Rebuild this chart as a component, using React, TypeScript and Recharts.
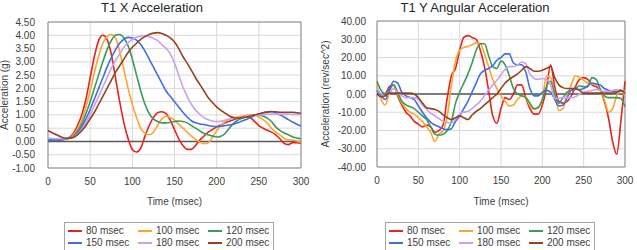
import { LineChart, Line, XAxis, YAxis, CartesianGrid, ReferenceLine, ReferenceArea } from "recharts";

// sample times, msec
const TIME_MS = [
  0, 5, 10, 15, 20, 25, 30, 35, 40, 45, 50, 55, 60, 65, 70, 75, 80, 85, 90, 95,
  100, 105, 110, 115, 120, 125, 130, 135, 140, 145, 150, 155, 160, 165, 170, 175, 180, 185, 190, 195,
  200, 205, 210, 215, 220, 225, 230, 235, 240, 245, 250, 255, 260, 265, 270, 275, 280, 285, 290, 295, 300,
];

const SERIES_NAMES = ["80 msec", "100 msec", "120 msec", "150 msec", "180 msec", "200 msec"];
const SERIES_COLORS = ["#e8231f", "#ffa42b", "#3a9a5c", "#3f6fe2", "#c8a2f2", "#96431b"];

// T1 X acceleration (g)
const X_80 = [
  0.05, 0.05, 0.05, 0.05, 0.08, 0.15, 0.3, 0.6, 1.0, 1.6, 2.4, 3.2, 3.8, 4.0, 3.85, 3.3, 2.4, 1.5, 0.7, 0.1,
  -0.3, -0.4, -0.25, 0.2, 0.6, 0.9, 1.08, 1.12, 1.05, 0.8, 0.45, 0.1, -0.15, -0.3, -0.3, -0.15, 0.05, 0.2, 0.35, 0.45,
  0.55, 0.62, 0.7, 0.76, 0.82, 0.88, 0.93, 0.95, 0.9, 0.75, 0.6, 0.5, 0.42, 0.35, 0.25, 0.1, -0.08, -0.12, -0.05, -0.05, -0.08,
];
const X_100 = [
  0.1, 0.08, 0.07, 0.07, 0.08, 0.12, 0.25, 0.45, 0.8, 1.3, 1.9, 2.6, 3.2, 3.7, 3.95, 4.03, 3.9, 3.4, 2.7, 2.0,
  1.4, 0.9, 0.5, 0.3, 0.25, 0.35, 0.6, 0.85, 0.95, 0.9, 0.8, 0.65, 0.5, 0.35, 0.2, 0.08, -0.02, -0.08, -0.05, 0.15,
  0.4, 0.6, 0.75, 0.85, 0.9, 0.92, 0.95, 0.98, 1.0, 1.0, 0.92, 0.82, 0.69, 0.5, 0.35, 0.25, 0.12, 0.06, 0.05, 0.02, -0.05,
];
const X_120 = [
  0.05, 0.05, 0.05, 0.06, 0.08, 0.12, 0.2, 0.38, 0.65, 1.05, 1.5, 2.0, 2.5, 3.0, 3.45, 3.8, 4.0, 4.03, 3.9, 3.6,
  3.1, 2.5, 1.9, 1.4, 1.05, 0.85, 0.75, 0.7, 0.7, 0.72, 0.75, 0.77, 0.75, 0.7, 0.6, 0.5, 0.4, 0.3, 0.25, 0.2,
  0.17, 0.2, 0.3, 0.5, 0.68, 0.8, 0.87, 0.92, 0.96, 1.0, 1.0, 0.95, 0.88, 0.75, 0.55, 0.42, 0.32, 0.25, 0.18, 0.13, 0.1,
];
const X_150 = [
  0.08, 0.07, 0.06, 0.06, 0.08, 0.12, 0.18, 0.32, 0.55, 0.85, 1.2, 1.6, 2.0, 2.4, 2.8, 3.15, 3.45, 3.7, 3.85, 3.92,
  3.9, 3.82, 3.65, 3.4, 3.1, 2.8, 2.5, 2.2, 1.9, 1.7, 1.5, 1.3, 1.1, 0.92, 0.78, 0.7, 0.66, 0.64, 0.6, 0.57,
  0.56, 0.57, 0.6, 0.62, 0.65, 0.7, 0.77, 0.83, 0.9, 0.97, 1.03, 1.08, 1.12, 1.13, 1.08, 1.0, 0.92, 0.82, 0.73, 0.65, 0.58,
];
const X_180 = [
  0.12, 0.11, 0.1, 0.1, 0.1, 0.12, 0.17, 0.28, 0.45, 0.7, 1.0, 1.35, 1.7, 2.05, 2.4, 2.75, 3.05, 3.3, 3.55, 3.72,
  3.85, 3.93, 3.97, 3.98, 3.95, 3.88, 3.8, 3.65, 3.5, 3.3, 2.95, 2.5, 2.05, 1.7, 1.4, 1.18, 1.02, 0.9, 0.82, 0.77,
  0.75, 0.76, 0.8, 0.84, 0.87, 0.9, 0.92, 0.94, 0.96, 0.98, 1.0, 1.01, 1.02, 1.03, 1.03, 1.03, 1.03, 1.03, 1.02, 1.02, 1.02,
];
const X_200 = [
  0.4, 0.33, 0.25, 0.18, 0.13, 0.12, 0.15, 0.25, 0.4, 0.6, 0.85, 1.1, 1.4, 1.7, 2.0, 2.3, 2.6, 2.85, 3.1, 3.35,
  3.55, 3.7, 3.85, 3.95, 4.03, 4.08, 4.1, 4.07, 4.0, 3.9, 3.75, 3.5, 3.2, 2.95, 2.68, 2.4, 2.15, 1.9, 1.65, 1.47,
  1.3, 1.17, 1.07, 0.96, 0.9, 0.88, 0.9, 0.92, 0.95, 1.0, 1.04, 1.08, 1.1, 1.12, 1.12, 1.1, 1.1, 1.1, 1.1, 1.08, 1.06,
];

// T1 Y angular acceleration (rev/sec^2)
const Y_80 = [
  0, -1.5, 0, 4, 5, -1, -6, -10, -12, -15, -16.5, -18, -17, -18, -21, -20, -17, -2, 10, 14,
  24, 31, 32, 31, 30, 24, 15, 2, -12, -16, -8, -2, -3, 0, 5, 5, -2, -8, -11, -11,
  -6, 3, 16, 4, -4, -5, -4, -1, 4, 8, 9, 8, 5, 4, 2, -4, -13, -26, -33, -15, 7,
];
const Y_100 = [
  5, -3, -6, 1, 5, 0, -5, -8, -10, -11, -13, -15, -18, -21, -26, -22, -20, -12, 5, 18,
  24, 25.5, 26, 27, 28, 27.5, 22, 15, 8, 3, -1, -4, -6.5, -6, -3, -1, -2, -6.5, -8.5, -7,
  -3, 10, 9, 0, -9, -8, -1, 5, 10, 9, 7.5, 6, 5.5, 5, 2.5, -3, -10, -8, -1, 2, -1,
];
const Y_120 = [
  7, 2, 0, 3, 5, 1, -4, -6, -7, -8, -10, -12, -14, -18, -22, -22.5, -22, -20, -15, -5,
  1, 6, 11, 17, 24, 27.5, 27.5, 21, 15, 14, 18, 16, 10, 3, 0, -1, -2, -5, -8, -7.5,
  -3, 4, 7, 0, -5, -2, 1, 2, 3, 4.5, 4, 4, 9, 8, 3, -1, -2, -2, -2, -2.5, -7,
];
const Y_150 = [
  2, -1, -3, 2, 7, 6, 1, -1, -2, -3, -6.5, -10, -13, -15.5, -17, -18, -19, -19.5, -19, -15,
  -12, -8, -4, 1, 6, 11, 13, 14, 15.5, 18.5, 20, 22, 22, 17, 16, 16, 12, 3, -1, -1,
  1, 2, 1, -3, -6.5, -6, -2, 2, 2.5, 2.5, 3, 4.5, 6, 5.5, 5, 3, 2, 1.5, 1.5, 1.5, 1.5,
];
const Y_180 = [
  3, 0, -1, 0, 3, 1, -1, -2, -2, -2, -3, -6, -8.5, -10.5, -12, -13.5, -15, -15.5, -16, -14,
  -11, -10, -9.5, -8, -6, -4, -1, 2, 5, 7.5, 10.5, 13.5, 15, 15, 16, 17.5, 16.5, 11, 8.5, 8,
  8.5, 8, 5, -2.5, -2.5, -2, -2, -2, -1.5, 0, 1, 1.5, 2, 2.5, 2, 1.5, 1.5, 2, 2.5, 2, 1.5,
];
const Y_200 = [
  0, -1.5, -1, 0.5, 0.5, 0.5, 0.5, 0.5, 0.5, 0, -2, -5, -7.5, -8, -8.5, -9.5, -11.5, -13, -14, -13,
  -12, -13, -14, -11.5, -9.5, -8, -6, -4, -2, 0, 3, 6, 8, 9.5, 11, 13, 15, 14, 12.5, 12.5,
  13, 14, 15, 9, 5, 3.5, 3, 3, 3, 2, 0.5, 0.5, 0.5, 0.5, 0.5, 0.5, 0.5, 0.5, 1, 2, 0.5,
];

const X_TICKS = [0, 50, 100, 150, 200, 250, 300];
const X_ACCEL_TICKS = [-1, -0.5, 0, 0.5, 1, 1.5, 2, 2.5, 3, 3.5, 4, 4.5];
const Y_ANG_TICKS = [-40, -30, -20, -10, 0, 10, 20, 30, 40];

const FONT = "'Liberation Sans', Arial, sans-serif";
const CHART_H = 250;
const X_AXIS_H = 30;

function buildRows(series: number[][]) {
  return TIME_MS.map((t, i) => {
    const row: Record<string, number> = { t };
    series.forEach((s, k) => {
      row["s" + k] = s[i];
    });
    return row;
  });
}

type PanelProps = {
  left: number;
  width: number;
  title: string;
  titleX: number;
  yLabel: string;
  yLabelX: number;
  rows: Record<string, number>[];
  domain: [number, number];
  ticks: number[];
  plotLeft: number;
  plotRight: number;
  plotTop: number;
  plotBottom: number;
  yTickGap: number;
  legendLeft: number;
};

function Panel(p: PanelProps) {
  const plotMidX = (p.plotLeft + p.plotRight) / 2;
  const plotMidY = (p.plotTop + p.plotBottom) / 2;
  return (
    <div style={{ position: "absolute", left: p.left, top: 0, width: p.width, height: CHART_H }}>
      <div
        style={{
          position: "absolute",
          left: p.titleX - 150,
          width: 300,
          top: 0,
          textAlign: "center",
          fontSize: 13,
          color: "#262626",
        }}
      >
        {p.title}
      </div>
      <div
        style={{
          position: "absolute",
          left: p.yLabelX - 100,
          top: plotMidY - 7,
          width: 200,
          height: 14,
          lineHeight: "14px",
          textAlign: "center",
          fontSize: 10,
          color: "#404040",
          transform: "rotate(-90deg)",
        }}
      >
        {p.yLabel}
      </div>
      <LineChart
        width={p.width}
        height={CHART_H}
        data={p.rows}
        margin={{ top: p.plotTop, right: p.width - p.plotRight, left: 0, bottom: CHART_H - p.plotBottom - X_AXIS_H }}
        style={{ position: "absolute", left: 0, top: 0 }}
      >
        <CartesianGrid stroke="#d9d9d9" strokeWidth={1} />
        <XAxis
          dataKey="t"
          type="number"
          domain={[0, 300]}
          ticks={X_TICKS}
          height={X_AXIS_H}
          axisLine={false}
          tickLine={false}
          tickSize={0}
          tickMargin={10}
          tick={{ fontSize: 10, fill: "#404040", fontFamily: FONT }}
        />
        <YAxis
          type="number"
          domain={p.domain}
          ticks={p.ticks}
          width={p.plotLeft}
          axisLine={false}
          tickLine={false}
          tickSize={0}
          tickMargin={p.yTickGap}
          interval={0}
          tickFormatter={(v: number) => v.toFixed(2)}
          tick={{ fontSize: 10, fill: "#404040", fontFamily: FONT }}
        />
        <ReferenceArea
          x1={0}
          x2={300}
          y1={p.domain[0]}
          y2={p.domain[1]}
          fill="none"
          stroke="#8c8c8c"
          strokeWidth={1}
          ifOverflow="visible"
        />
        <ReferenceLine y={0} stroke="#595959" strokeWidth={1.5} />
        {SERIES_NAMES.map((name, k) => (
          <Line
            key={name}
            dataKey={"s" + k}
            name={name}
            type="monotone"
            stroke={SERIES_COLORS[k]}
            strokeWidth={1.6}
            dot={false}
            isAnimationActive={false}
          />
        ))}
      </LineChart>
      <div
        style={{
          position: "absolute",
          left: plotMidX - 60,
          width: 120,
          top: 196,
          textAlign: "center",
          fontSize: 10,
          color: "#404040",
        }}
      >
        Time (msec)
      </div>
      <div
        style={{
          position: "absolute",
          left: p.legendLeft - p.left,
          top: 222,
          width: 210,
          height: 40,
          boxSizing: "border-box",
          border: "1px solid #a6a6a6",
          background: "#fff",
          padding: "2px 0 0 3px",
          display: "grid",
          gridTemplateColumns: "70px 70px 68px",
          gridAutoRows: "12px",
        }}
      >
        {SERIES_NAMES.map((name, k) => (
          <div
            key={name}
            style={{ display: "flex", alignItems: "center", height: 12, lineHeight: "12px", fontSize: 10, color: "#404040" }}
          >
            <span style={{ display: "inline-block", width: 14, height: 2, background: SERIES_COLORS[k], marginRight: 4 }} />
            {name}
          </div>
        ))}
      </div>
    </div>
  );
}

export default function App() {
  const xRows = buildRows([X_80, X_100, X_120, X_150, X_180, X_200]);
  const yRows = buildRows([Y_80, Y_100, Y_120, Y_150, Y_180, Y_200]);
  return (
    <div
      style={{
        position: "fixed",
        left: 0,
        top: 0,
        width: 637,
        height: 250,
        background: "#fff",
        overflow: "hidden",
        fontFamily: FONT,
      }}
    >
      <Panel
        left={0}
        width={318}
        title="T1 X Acceleration"
        titleX={152}
        yLabel="Acceleration (g)"
        yLabelX={5}
        rows={xRows}
        domain={[-1, 4.5]}
        ticks={X_ACCEL_TICKS}
        plotLeft={48}
        plotRight={301}
        plotTop={22}
        plotBottom={168}
        yTickGap={13}
        legendLeft={64}
      />
      <Panel
        left={318}
        width={319}
        title="T1 Y Angular Acceleration"
        titleX={157}
        yLabel="Acceleration (rev/sec^2)"
        yLabelX={8}
        rows={yRows}
        domain={[-40, 40]}
        ticks={Y_ANG_TICKS}
        plotLeft={59}
        plotRight={307}
        plotTop={21}
        plotBottom={167}
        yTickGap={11}
        legendLeft={385}
      />
    </div>
  );
}
